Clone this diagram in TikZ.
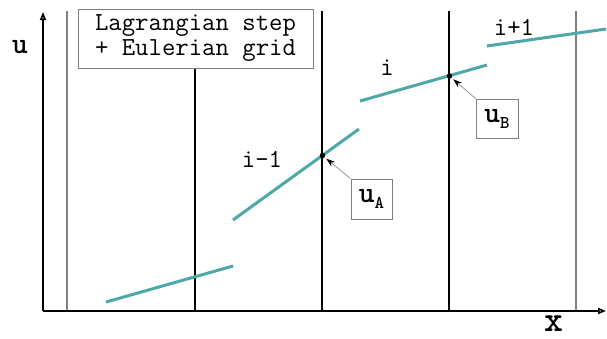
\documentclass[tikz,border=0pt]{standalone}
\usepackage{fontspec}
\usetikzlibrary{arrows.meta,positioning}
\definecolor{segteal}{RGB}{78,168,168}

\begin{document}
\begin{tikzpicture}[
    x=1pt, y=-1pt,
    >=Stealth,
    axis/.style={draw, line width=1.6pt, -{Triangle[open,length=8pt,width=6pt]}},
    cell/.style={draw, line width=1.1pt},
    outer cell/.style={draw=gray, line width=1.4pt},
    segment/.style={draw=segteal, line width=3pt},
    point/.style={circle, fill, inner sep=0pt, minimum size=5.5pt},
    tag/.style={draw=gray, fill=white, line width=0.9pt, inner sep=0pt, align=center},
    pointer/.style={draw=gray, line width=0.6pt, -{Stealth[black,length=9pt,width=6pt]}, shorten >=2pt},
    mono/.style={font=\fontsize{26}{25}\selectfont\ttfamily},
    big/.style={inner sep=0pt, font=\fontsize{30}{30}\selectfont\ttfamily\bfseries},
]
\useasboundingbox (0,0) rectangle (607,338);

% Cell boundaries
\draw[outer cell] (67,11) -- (67,311);
\foreach \xc in {195,322,449}
  \draw[cell] (\xc,11) -- (\xc,311);
\draw[outer cell] (576,11) -- (576,311);

% Axes
\coordinate (origin) at (43,311);
\coordinate (xend) at (606,311);
\coordinate (yend) at (43,12);
\draw[axis] (origin) -- (xend);
\draw[axis] (origin) -- (yend);
\node[big, anchor=base] (ulabel) at (20,53) {u};
\node[big, font=\fontsize{36}{36}\selectfont\ttfamily\bfseries, anchor=base] (xlabel) at (554,331) {x};

% Title box
\node[tag, mono, minimum width=235, minimum height=59] (title) at (195.5,38.5)
  {Lagrangian step\\+ Eulerian grid};

% Reconstructed segments
\draw[segment] (106,302) -- (233,266);
\draw[segment] (233,220) -- (359,129);
\draw[segment] (360,101) -- (487,65);
\draw[segment] (487,46) -- (606,29);

% Cell labels
\node[mono, anchor=base] (im1) at (262,167) {i-1};
\node[mono, anchor=base] (i0) at (387,75) {i};
\node[mono, anchor=base] (ip1) at (514,35) {i+1};

% Interface values
\node[point] (ua) at (322.5,155.5) {};
\node[point] (ub) at (449.5,76) {};
\node[tag, minimum width=41, minimum height=40] (uabox) at (371.5,199)
  {{\fontsize{30}{30}\selectfont\ttfamily\bfseries u}\raisebox{-6pt}{\fontsize{18}{18}\selectfont\ttfamily\bfseries A}};
\node[tag, minimum width=42, minimum height=39] (ubbox) at (497,118.5)
  {{\fontsize{30}{30}\selectfont\ttfamily\bfseries u}\raisebox{-6pt}{\fontsize{18}{18}\selectfont\ttfamily\bfseries B}};
\draw[pointer] (uabox.north west) -- (ua);
\draw[pointer] (ubbox.north west) -- (ub);

\end{tikzpicture}
\end{document}
